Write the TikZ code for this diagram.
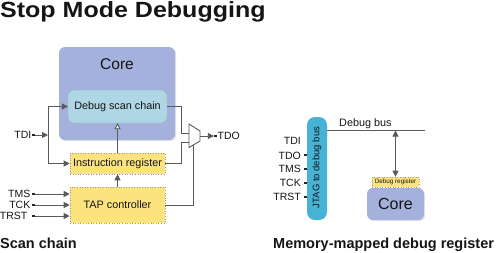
\documentclass[tikz,border=0pt]{standalone}
\usepackage{fontspec}
\setmainfont{Liberation Sans}
\usetikzlibrary{arrows.meta,shadows}
\definecolor{corefill}{HTML}{A4B1DD}
\definecolor{scanfill}{HTML}{AED6E4}
\definecolor{yel}{HTML}{FCE37E}
\definecolor{jtag}{HTML}{46B3D6}
\definecolor{ln}{HTML}{5A5A5A}
\definecolor{txt}{HTML}{151515}
\tikzset{
  fs/.style={font=\fontsize{#1}{#1}\selectfont},
  box/.style={draw=none, rounded corners=6pt, inner sep=0pt, text=txt},
  corebox/.style={box, fill=corefill, drop shadow={opacity=0.2, shadow xshift=1.2pt, shadow yshift=-1.2pt}},
  scanbox/.style={box, fill=scanfill, draw=scanfill!85!black, line width=0.3pt},
  ybox/.style={draw=gray!80, dotted, line width=0.6pt, fill=yel, inner sep=0pt, text=txt},
  jbox/.style={box, fill=jtag, rounded corners=8pt},
  lab/.style={inner sep=0pt, text=txt, fs=10.5},
  sq/.style={fill=black!85, draw=none, minimum size=2.8pt, inner sep=0pt},
  wire/.style={draw=ln, line width=0.9pt},
  arr/.style={wire, -{Triangle[length=6pt,width=6pt]}},
  oarr/.style={wire, -{Triangle[open, length=6pt,width=6pt, fill=white]}},
  darr/.style={wire, {Triangle[length=6pt,width=6pt]}-{Triangle[length=6pt,width=6pt]}},
}
\begin{document}
\begin{tikzpicture}[x=1pt,y=-1pt]
\useasboundingbox (0,0) rectangle (500,252);

% titles
\node[anchor=base west, inner sep=0pt, text=txt] (title) at (0,17.3)
  {\scalebox{1.137}[1]{\fontsize{22}{24}\selectfont\bfseries Stop Mode Debugging}};
\node[anchor=base west, inner sep=0pt, text=txt, font=\fontsize{14.5}{16}\selectfont\bfseries] (t1) at (0,248) {Scan chain};
\node[anchor=base west, inner sep=0pt, text=txt, font=\fontsize{14.5}{16}\selectfont\bfseries] (t2) at (273,248) {Memory-mapped debug register};

% left diagram
\node[corebox, minimum width=116pt, minimum height=93pt] (core) at (117,93.5) {};
\node[lab, fs=15.5] (coretxt) at (117,64.5) {Core};
\node[scanbox, minimum width=99pt, minimum height=33pt, fs=10.8] (scan) at (117.5,106.5) {Debug scan chain};
\node[ybox, minimum width=95pt, minimum height=21pt, fs=10.8] (ir) at (117.5,163.5) {Instruction register};
\node[ybox, minimum width=95pt, minimum height=36pt, fs=10.8] (tap) at (117.5,205) {TAP controller};

% TDI
\node[lab, anchor=east] (tdi) at (31.5,135) {TDI};
\node[sq] (sqtdi) at (33.8,135) {};
\coordinate (j1) at (48,135);
\draw[arr] (sqtdi) -- (j1);
\draw[arr] (j1) |- (scan.west);
\draw[arr] (j1) |- (ir.west);

% TMS TCK TRST
\node[lab, anchor=east] (tms) at (30.5,194) {TMS};
\node[lab, anchor=east] (tck) at (30.5,205) {TCK};
\node[lab, anchor=east] (trst) at (27.5,216) {TRST};
\node[sq] (sqtms) at (33.5,194) {};
\node[sq] (sqtck) at (33.5,205) {};
\node[sq] (sqtrst) at (33.5,216) {};
\draw[arr] (sqtms) -- (sqtms -| tap.west);
\draw[arr] (sqtck) -- (sqtck -| tap.west);
\draw[arr] (sqtrst) -- (sqtrst -| tap.west);

% vertical arrows
\draw[arr] (tap.north) -- (ir.south);
\draw[oarr] (ir.north) -- (scan.south);

% mux
\coordinate (m1) at (189,124);
\coordinate (m2) at (200,131);
\coordinate (m3) at (200,141);
\coordinate (m4) at (189,147.5);
\draw[wire, fill=white] (m1) -- (m2) -- (m3) -- (m4) -- cycle;
\coordinate (min1) at (189,133);
\coordinate (min2) at (189,142);
\coordinate (msel) at (193,145.2);
\coordinate (mout) at (200,136);
\draw[wire] (scan.east) -- ++(14,0) |- (min1);
\draw[wire] (ir.east) -- ++(16,0) |- (min2);
\draw[wire] (tap.east) -| (msel);
\node[sq] (sqtdo) at (215.5,136) {};
\node[lab, anchor=west] (tdo) at (217.5,136) {TDO};
\draw[arr] (mout) -- (sqtdo.west);

% right diagram
\node[jbox, minimum width=20pt, minimum height=103pt] (jt) at (317,168.5) {};
\node[lab, fs=9.5, rotate=90] (jttxt) at (317,167.5) {JTAG to debug bus};
\node[lab, anchor=east] (rtdi) at (301,141) {TDI};
\node[lab, anchor=east] (rtdo) at (301,155.5) {TDO};
\node[lab, anchor=east] (rtms) at (301,169) {TMS};
\node[lab, anchor=east] (rtck) at (301,183) {TCK};
\node[lab, anchor=east] (rtrst) at (301,197) {TRST};
\node[sq] (rsq1) at (305.8,155) {};
\node[sq] (rsq2) at (305.8,169) {};
\node[sq] (rsq3) at (305.8,183) {};
\node[sq] (rsq4) at (305.8,197) {};

\coordinate (busL) at (327,130.5);
\coordinate (busR) at (425,130.5);
\coordinate (busT) at (395.5,130.5);
\draw[wire] (busL) -- (busR);
\node[lab, anchor=base west, fs=10.8] (bustxt) at (339,126) {Debug bus};

\node[corebox, minimum width=57pt, minimum height=32pt, fs=16] (core2) at (395.5,204) {Core};
\node[ybox, minimum width=47pt, minimum height=10pt, fs=6.3] (dreg) at (395.5,182) {Debug register};
\draw[darr] (busT) -- (dreg.north);
\end{tikzpicture}
\end{document}
